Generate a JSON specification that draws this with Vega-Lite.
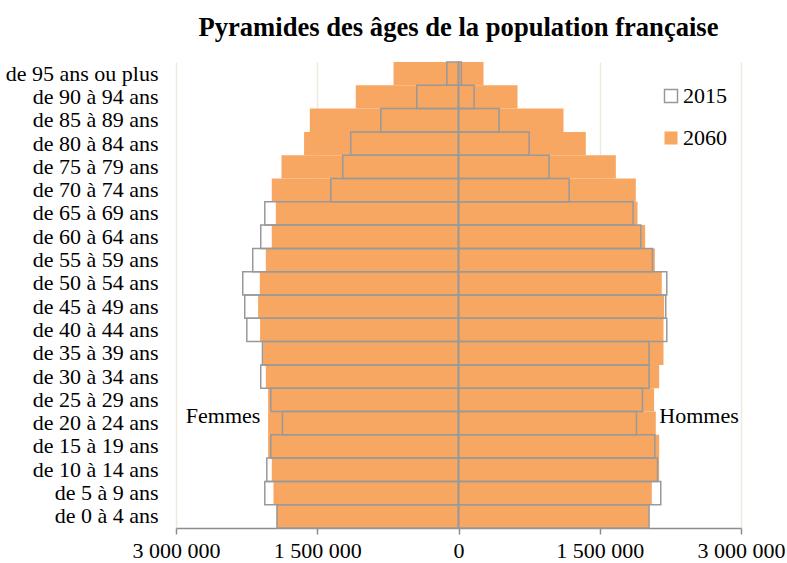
{
  "$schema": "https://vega.github.io/schema/vega-lite/v6.json",
  "width": 565,
  "height": 466,
  "autosize": {"type": "none"},
  "padding": {"left": 176, "top": 62, "right": 46, "bottom": 35},
  "background": "white",
  "title": {
    "text": "Pyramides des âges de la population française",
    "font": "Liberation Serif",
    "fontSize": 26.6,
    "fontWeight": "bold",
    "color": "black",
    "anchor": "middle",
    "offset": 20
  },
  "config": {
    "view": {"stroke": null},
    "legend": {
      "orient": "none",
      "legendX": 484,
      "legendY": 23,
      "padding": 0,
      "title": null,
      "symbolType": "square",
      "symbolSize": 169,
      "symbolStrokeWidth": 1.5,
      "labelFont": "Liberation Serif",
      "labelFontSize": 22,
      "labelColor": "black",
      "labelOffset": 1,
      "rowPadding": 20
    }
  },
  "data": {
    "values": [
      {"age": "de 95 ans ou plus", "sexe": "F", "annee": "2060", "valeur": -690000},
      {"age": "de 90 à 94 ans", "sexe": "F", "annee": "2060", "valeur": -1091000},
      {"age": "de 85 à 89 ans", "sexe": "F", "annee": "2060", "valeur": -1579000},
      {"age": "de 80 à 84 ans", "sexe": "F", "annee": "2060", "valeur": -1640000},
      {"age": "de 75 à 79 ans", "sexe": "F", "annee": "2060", "valeur": -1880000},
      {"age": "de 70 à 74 ans", "sexe": "F", "annee": "2060", "valeur": -1983000},
      {"age": "de 65 à 69 ans", "sexe": "F", "annee": "2060", "valeur": -1940000},
      {"age": "de 60 à 64 ans", "sexe": "F", "annee": "2060", "valeur": -1983000},
      {"age": "de 55 à 59 ans", "sexe": "F", "annee": "2060", "valeur": -2046000},
      {"age": "de 50 à 54 ans", "sexe": "F", "annee": "2060", "valeur": -2110000},
      {"age": "de 45 à 49 ans", "sexe": "F", "annee": "2060", "valeur": -2128000},
      {"age": "de 40 à 44 ans", "sexe": "F", "annee": "2060", "valeur": -2107000},
      {"age": "de 35 à 39 ans", "sexe": "F", "annee": "2060", "valeur": -2075000},
      {"age": "de 30 à 34 ans", "sexe": "F", "annee": "2060", "valeur": -2046000},
      {"age": "de 25 à 29 ans", "sexe": "F", "annee": "2060", "valeur": -2022000},
      {"age": "de 20 à 24 ans", "sexe": "F", "annee": "2060", "valeur": -2022000},
      {"age": "de 15 à 19 ans", "sexe": "F", "annee": "2060", "valeur": -2022000},
      {"age": "de 10 à 14 ans", "sexe": "F", "annee": "2060", "valeur": -1983000},
      {"age": "de 5 à 9 ans", "sexe": "F", "annee": "2060", "valeur": -1965000},
      {"age": "de 0 à 4 ans", "sexe": "F", "annee": "2060", "valeur": -1930000},
      {"age": "de 95 ans ou plus", "sexe": "H", "annee": "2060", "valeur": 266000},
      {"age": "de 90 à 94 ans", "sexe": "H", "annee": "2060", "valeur": 627000},
      {"age": "de 85 à 89 ans", "sexe": "H", "annee": "2060", "valeur": 1115000},
      {"age": "de 80 à 84 ans", "sexe": "H", "annee": "2060", "valeur": 1352000},
      {"age": "de 75 à 79 ans", "sexe": "H", "annee": "2060", "valeur": 1671000},
      {"age": "de 70 à 74 ans", "sexe": "H", "annee": "2060", "valeur": 1883000},
      {"age": "de 65 à 69 ans", "sexe": "H", "annee": "2060", "valeur": 1901000},
      {"age": "de 60 à 64 ans", "sexe": "H", "annee": "2060", "valeur": 1982000},
      {"age": "de 55 à 59 ans", "sexe": "H", "annee": "2060", "valeur": 2085000},
      {"age": "de 50 à 54 ans", "sexe": "H", "annee": "2060", "valeur": 2159000},
      {"age": "de 45 à 49 ans", "sexe": "H", "annee": "2060", "valeur": 2184000},
      {"age": "de 40 à 44 ans", "sexe": "H", "annee": "2060", "valeur": 2177000},
      {"age": "de 35 à 39 ans", "sexe": "H", "annee": "2060", "valeur": 2177000},
      {"age": "de 30 à 34 ans", "sexe": "H", "annee": "2060", "valeur": 2131000},
      {"age": "de 25 à 29 ans", "sexe": "H", "annee": "2060", "valeur": 2077000},
      {"age": "de 20 à 24 ans", "sexe": "H", "annee": "2060", "valeur": 2095000},
      {"age": "de 15 à 19 ans", "sexe": "H", "annee": "2060", "valeur": 2131000},
      {"age": "de 10 à 14 ans", "sexe": "H", "annee": "2060", "valeur": 2131000},
      {"age": "de 5 à 9 ans", "sexe": "H", "annee": "2060", "valeur": 2053000},
      {"age": "de 0 à 4 ans", "sexe": "H", "annee": "2060", "valeur": 2024000},
      {"age": "de 95 ans ou plus", "sexe": "F", "annee": "2015", "valeur": -124000},
      {"age": "de 90 à 94 ans", "sexe": "F", "annee": "2015", "valeur": -443000},
      {"age": "de 85 à 89 ans", "sexe": "F", "annee": "2015", "valeur": -825000},
      {"age": "de 80 à 84 ans", "sexe": "F", "annee": "2015", "valeur": -1144000},
      {"age": "de 75 à 79 ans", "sexe": "F", "annee": "2015", "valeur": -1229000},
      {"age": "de 70 à 74 ans", "sexe": "F", "annee": "2015", "valeur": -1356000},
      {"age": "de 65 à 69 ans", "sexe": "F", "annee": "2015", "valeur": -2057000},
      {"age": "de 60 à 64 ans", "sexe": "F", "annee": "2015", "valeur": -2100000},
      {"age": "de 55 à 59 ans", "sexe": "F", "annee": "2015", "valeur": -2185000},
      {"age": "de 50 à 54 ans", "sexe": "F", "annee": "2015", "valeur": -2291000},
      {"age": "de 45 à 49 ans", "sexe": "F", "annee": "2015", "valeur": -2270000},
      {"age": "de 40 à 44 ans", "sexe": "F", "annee": "2015", "valeur": -2248000},
      {"age": "de 35 à 39 ans", "sexe": "F", "annee": "2015", "valeur": -2082000},
      {"age": "de 30 à 34 ans", "sexe": "F", "annee": "2015", "valeur": -2100000},
      {"age": "de 25 à 29 ans", "sexe": "F", "annee": "2015", "valeur": -1993000},
      {"age": "de 20 à 24 ans", "sexe": "F", "annee": "2015", "valeur": -1869000},
      {"age": "de 15 à 19 ans", "sexe": "F", "annee": "2015", "valeur": -1993000},
      {"age": "de 10 à 14 ans", "sexe": "F", "annee": "2015", "valeur": -2036000},
      {"age": "de 5 à 9 ans", "sexe": "F", "annee": "2015", "valeur": -2057000},
      {"age": "de 0 à 4 ans", "sexe": "F", "annee": "2015", "valeur": -1928000},
      {"age": "de 95 ans ou plus", "sexe": "H", "annee": "2015", "valeur": 30000},
      {"age": "de 90 à 94 ans", "sexe": "H", "annee": "2015", "valeur": 166000},
      {"age": "de 85 à 89 ans", "sexe": "H", "annee": "2015", "valeur": 431000},
      {"age": "de 80 à 84 ans", "sexe": "H", "annee": "2015", "valeur": 750000},
      {"age": "de 75 à 79 ans", "sexe": "H", "annee": "2015", "valeur": 962000},
      {"age": "de 70 à 74 ans", "sexe": "H", "annee": "2015", "valeur": 1175000},
      {"age": "de 65 à 69 ans", "sexe": "H", "annee": "2015", "valeur": 1854000},
      {"age": "de 60 à 64 ans", "sexe": "H", "annee": "2015", "valeur": 1936000},
      {"age": "de 55 à 59 ans", "sexe": "H", "annee": "2015", "valeur": 2060000},
      {"age": "de 50 à 54 ans", "sexe": "H", "annee": "2015", "valeur": 2212000},
      {"age": "de 45 à 49 ans", "sexe": "H", "annee": "2015", "valeur": 2201000},
      {"age": "de 40 à 44 ans", "sexe": "H", "annee": "2015", "valeur": 2212000},
      {"age": "de 35 à 39 ans", "sexe": "H", "annee": "2015", "valeur": 2024000},
      {"age": "de 30 à 34 ans", "sexe": "H", "annee": "2015", "valeur": 2024000},
      {"age": "de 25 à 29 ans", "sexe": "H", "annee": "2015", "valeur": 1954000},
      {"age": "de 20 à 24 ans", "sexe": "H", "annee": "2015", "valeur": 1890000},
      {"age": "de 15 à 19 ans", "sexe": "H", "annee": "2015", "valeur": 2085000},
      {"age": "de 10 à 14 ans", "sexe": "H", "annee": "2015", "valeur": 2113000},
      {"age": "de 5 à 9 ans", "sexe": "H", "annee": "2015", "valeur": 2148000},
      {"age": "de 0 à 4 ans", "sexe": "H", "annee": "2015", "valeur": 2024000}
    ]
  },
  "encoding": {
    "y": {
      "field": "age",
      "type": "nominal",
      "sort": ["de 95 ans ou plus", "de 90 à 94 ans", "de 85 à 89 ans", "de 80 à 84 ans", "de 75 à 79 ans", "de 70 à 74 ans", "de 65 à 69 ans", "de 60 à 64 ans", "de 55 à 59 ans", "de 50 à 54 ans", "de 45 à 49 ans", "de 40 à 44 ans", "de 35 à 39 ans", "de 30 à 34 ans", "de 25 à 29 ans", "de 20 à 24 ans", "de 15 à 19 ans", "de 10 à 14 ans", "de 5 à 9 ans", "de 0 à 4 ans"],
      "scale": {"paddingInner": 0, "paddingOuter": 0},
      "axis": {
        "title": null,
        "domain": false,
        "ticks": false,
        "grid": false,
        "labelFont": "Liberation Serif",
        "labelFontSize": 22,
        "labelColor": "black",
        "labelPadding": 18,
        "labelLimit": 0
      }
    },
    "x": {
      "field": "valeur",
      "type": "quantitative",
      "stack": null,
      "scale": {"domain": [-3000000, 3000000], "nice": false, "zero": false},
      "axis": {
        "title": null,
        "values": [-3000000, -1500000, 0, 1500000, 3000000],
        "labelExpr": "replace(format(abs(datum.value), ','), regexp(',', 'g'), ' ')",
        "labelFlush": false,
        "labelOverlap": false,
        "labelFont": "Liberation Serif",
        "labelFontSize": 22,
        "labelColor": "black",
        "labelPadding": 6,
        "domainColor": "#8c8c8c",
        "domainWidth": 1.5,
        "tickColor": "#8c8c8c",
        "tickWidth": 1.5,
        "tickSize": 6,
        "grid": true,
        "gridColor": "#ECE9DF",
        "gridWidth": 1.5
      }
    }
  },
  "layer": [
    {
      "transform": [{"filter": "datum.annee == '2060'"}],
      "mark": {"type": "bar", "strokeWidth": 1.5},
      "encoding": {
        "fill": {
          "field": "annee",
          "type": "nominal",
          "scale": {"domain": ["2015", "2060"], "range": ["rgba(255,255,255,0)", "#F8A763"]}
        },
        "stroke": {
          "field": "annee",
          "type": "nominal",
          "scale": {"domain": ["2015", "2060"], "range": ["#999999", "rgba(255,255,255,0)"]}
        }
      }
    },
    {
      "transform": [{"filter": "datum.annee == '2060' && datum.sexe == 'F' && datum.age == 'de 95 ans ou plus'"}],
      "mark": {"type": "rule", "color": "#999999", "strokeWidth": 1.5},
      "encoding": {"x": {"datum": 0, "type": "quantitative"}, "y": null}
    },
    {
      "transform": [{"filter": "datum.annee == '2015'"}],
      "mark": {"type": "bar", "strokeWidth": 1.5},
      "encoding": {
        "fill": {"field": "annee", "type": "nominal"},
        "stroke": {"field": "annee", "type": "nominal"}
      }
    },
    {
      "transform": [{"filter": "datum.annee == '2060' && datum.sexe == 'F' && datum.age == 'de 20 à 24 ans'"}],
      "mark": {"type": "text", "text": "Femmes", "align": "left", "baseline": "alphabetic", "font": "Liberation Serif", "fontSize": 22, "fill": "black"},
      "encoding": {
        "x": {"datum": -2896000, "type": "quantitative"}
      }
    },
    {
      "transform": [{"filter": "datum.annee == '2060' && datum.sexe == 'H' && datum.age == 'de 20 à 24 ans'"}],
      "mark": {"type": "text", "text": "Hommes", "align": "right", "baseline": "alphabetic", "font": "Liberation Serif", "fontSize": 22, "fill": "black"},
      "encoding": {
        "x": {"datum": 2976000, "type": "quantitative"}
      }
    }
  ]
}
